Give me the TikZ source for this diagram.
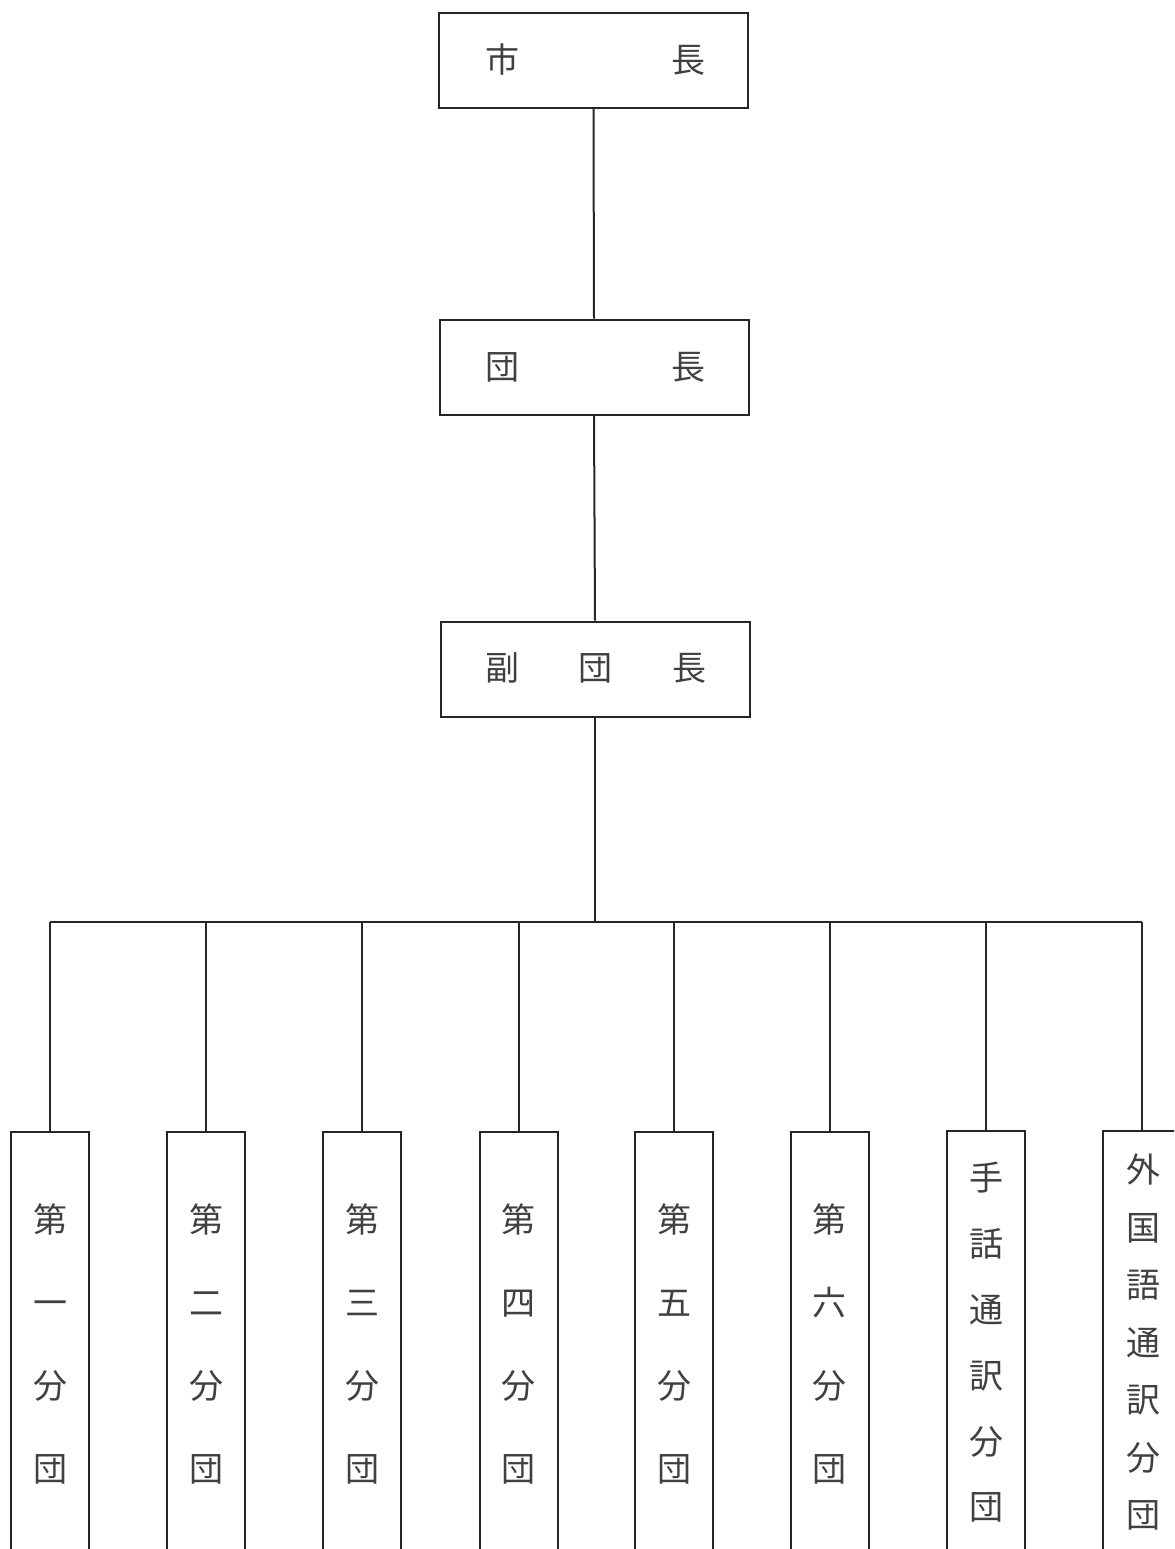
\documentclass[tikz,border=0pt]{standalone}
\usepackage{fontspec}
\newfontfamily\cjk{Noto Sans CJK JP}
\begin{document}
\begin{tikzpicture}[x=0.5pt,y=-0.5pt,
  topbox/.style={draw=black!85,line width=1pt,minimum width=154.5pt,minimum height=47.5pt,inner sep=0pt},
  subbox/.style={draw=black!85,line width=1pt,minimum width=39pt,minimum height=234pt,inner sep=0pt},
  hlabel/.style={font=\cjk\fontsize{17}{17}\selectfont,text=black!75,inner sep=0pt},
  conn/.style={draw=black!85,line width=1pt}
]
\useasboundingbox (0,0) rectangle (1174,1549);
\clip (0,0) rectangle (1174,1549);

% top boxes
\node[topbox] (mayor) at (593.5,60.5) {};
\node[hlabel] (mayortxt) at (595,60) {市\hspace{76pt}長};
\node[topbox] (chief) at (594,367) {};
\node[hlabel] (chieftxt) at (595,367) {団\hspace{76pt}長};
\node[topbox] (vice) at (595,669) {};
\node[hlabel] (vicetxt) at (596,668) {副\hspace{30pt}団\hspace{30pt}長};

% bus
\coordinate (bus) at (595,922);

% sub boxes (bottom edge lies outside the picture)
\node[subbox] (b1) at (50,1366) {};
\node[subbox] (b2) at (206,1366) {};
\node[subbox] (b3) at (362,1366) {};
\node[subbox] (b4) at (518.5,1366) {};
\node[subbox] (b5) at (674,1366) {};
\node[subbox] (b6) at (829.5,1366) {};
\node[subbox] (b7) at (985.5,1365) {};
\node[subbox] (b8) at (1142,1365) {};

% vertical labels
\tikzset{vlabel/.style={font=\cjk\fontsize{17}{#1}\selectfont,text=black!75,align=center,inner sep=0pt}}
\node[vlabel=41.5] (t1) at (50,1344) {第\\一\\分\\団};
\node[vlabel=41.5] (t2) at (206,1344) {第\\二\\分\\団};
\node[vlabel=41.5] (t3) at (362,1344) {第\\三\\分\\団};
\node[vlabel=41.5] (t4) at (518,1344) {第\\四\\分\\団};
\node[vlabel=41.5] (t5) at (674,1344) {第\\五\\分\\団};
\node[vlabel=41.5] (t6) at (829,1344) {第\\六\\分\\団};
\node[vlabel=32.9] (t7) at (986,1342.5) {手\\話\\通\\訳\\分\\団};
\node[vlabel=28.75] (t8) at (1143,1342.5) {外\\国\\語\\通\\訳\\分\\団};

% connectors
\draw[conn] (mayor.south) -- (chief.north);
\draw[conn] (chief.south) -- (vice.north);
\draw[conn] (vice.south) -- (bus);
\draw[conn] (b1.north |- bus) -- (b8.north |- bus);
\foreach \i in {1,...,8}{
  \draw[conn] (b\i.north) -- (b\i.north |- bus);
}
\end{tikzpicture}
\end{document}
